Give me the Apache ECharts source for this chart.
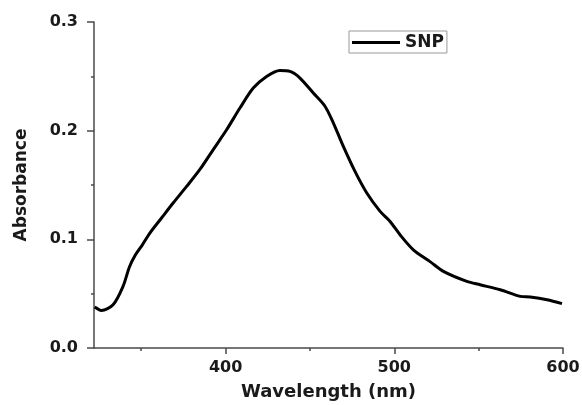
<!DOCTYPE html>
<html>
<head>
<meta charset="utf-8">
<script src="https://cdn.jsdelivr.net/npm/echarts@6/dist/echarts.min.js"></script>
<style>html,body{margin:0;padding:0;background:#fff;}#c{width:582px;height:405px;}</style>
</head>
<body>
<div id="c"></div>
<script>
const wavelength = [322.4, 326.4, 333.3, 339.2, 343, 346.5, 350.5, 355.1, 362, 368.9, 376.9, 385, 392.6, 400.6, 408.5, 416.4, 424.3, 432.2, 438.2, 444.1, 452, 458.9, 463.9, 469.8, 476.7, 483.7, 491.6, 497.5, 503.4, 511.3, 521.2, 529.1, 543, 550.9, 562.8, 574.7, 580.6, 590.5, 599.4];
const absorbance = [0.0377, 0.0346, 0.0398, 0.0567, 0.0745, 0.0855, 0.0945, 0.1058, 0.1196, 0.1334, 0.1487, 0.1648, 0.1824, 0.2008, 0.2208, 0.2392, 0.2499, 0.2554, 0.2545, 0.2484, 0.2346, 0.2225, 0.207, 0.1855, 0.1625, 0.1426, 0.1257, 0.1165, 0.1042, 0.0904, 0.0795, 0.0705, 0.0613, 0.0582, 0.0536, 0.0475, 0.0469, 0.0444, 0.0408];
const xMajorTicks = [400, 500, 600];
const xMinorTicks = [350, 450, 550];
const seriesName = 'SNP';
const xTitle = 'Wavelength (nm)';
const yTitle = 'Absorbance';

const FONT = 'DejaVu Sans';
const AX = '#4a4a4a';
const TXT = '#1a1a1a';

const chart = echarts.init(document.getElementById('c'), null, {renderer: 'canvas'});
chart.setOption({
  animation: false,
  backgroundColor: '#fff',
  grid: {left: 94, right: 19, top: 22, bottom: 57, containLabel: false, outerBoundsMode: 'none'},
  legend: {
    left: 349, top: 31,
    padding: [3, 3, 2, 3],
    icon: 'rect',
    itemWidth: 48, itemHeight: 3, itemGap: 5,
    borderColor: '#999', borderWidth: 1,
    data: [seriesName],
    itemStyle: {color: '#000'},
    textStyle: {fontFamily: FONT, fontWeight: 'bold', fontSize: 17, color: TXT}
  },
  xAxis: [{
    type: 'value', min: 322, max: 600,
    name: xTitle, nameLocation: 'middle', nameGap: 35,
    nameTextStyle: {fontFamily: FONT, fontWeight: 'bold', fontSize: 18, color: TXT},
    axisLine: {show: true, lineStyle: {color: AX, width: 1.5}},
    axisTick: {show: true, customValues: xMajorTicks, length: 6, lineStyle: {color: AX, width: 1.5}},
    axisLabel: {customValues: xMajorTicks, margin: 12, fontFamily: FONT, fontWeight: 'bold', fontSize: 16, color: TXT},
    splitLine: {show: false}
  }, {
    type: 'value', min: 322, max: 600, position: 'bottom',
    axisLine: {show: false},
    axisTick: {show: true, customValues: xMinorTicks, length: 3, lineStyle: {color: AX, width: 1.5}},
    axisLabel: {show: false},
    splitLine: {show: false}
  }],
  yAxis: {
    type: 'value', min: 0, max: 0.3, interval: 0.1,
    name: yTitle, nameLocation: 'middle', nameGap: 64,
    nameTextStyle: {fontFamily: FONT, fontWeight: 'bold', fontSize: 17, color: TXT},
    axisLine: {show: true, lineStyle: {color: AX, width: 1.5}},
    axisTick: {show: true, length: 7, lineStyle: {color: AX, width: 1.5}},
    minorTick: {show: true, splitNumber: 2, length: 3, lineStyle: {color: AX, width: 1.5}},
    axisLabel: {margin: 16, formatter: v => v.toFixed(1), fontFamily: FONT, fontWeight: 'bold', fontSize: 16, color: TXT},
    splitLine: {show: false}
  },
  series: [{
    name: seriesName, type: 'line', xAxisIndex: 0,
    symbol: 'none', smooth: 0.3,
    lineStyle: {color: '#000', width: 3},
    itemStyle: {color: '#000'},
    data: wavelength.map((w, i) => [w, absorbance[i]])
  }]
});
</script>
</body>
</html>
